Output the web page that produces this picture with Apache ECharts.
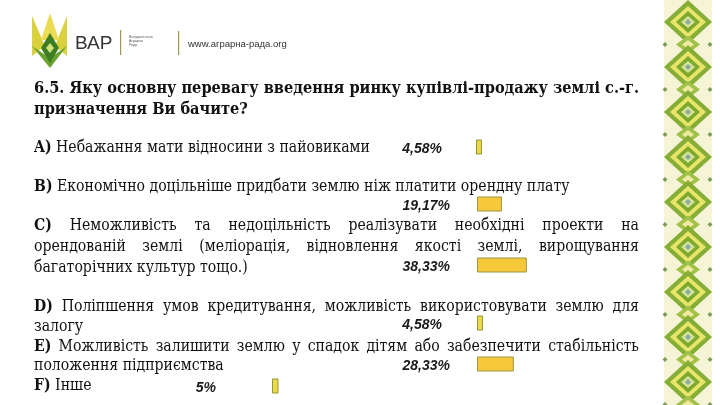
<!DOCTYPE html>
<html>
<head>
<meta charset="utf-8">
<script src="https://cdn.jsdelivr.net/npm/echarts@6/dist/echarts.min.js"></script>
<style>
  html, body { margin: 0; padding: 0; background: #fff; }
  #chart { width: 720px; height: 405px; }
</style>
</head>
<body>
<div id="chart"></div>
<script>
// answer options and shares, %
const options = ['A', 'B', 'C', 'D', 'E', 'F']
const shares = [4.58, 19.17, 38.33, 4.58, 28.33, 5]

const titleLines = [
  '6.5. Яку основну перевагу введення ринку купівлі-продажу землі с.-г.',
  'призначення Ви бачите?'
]
// [bold prefix, text, justified?, y]
const bodyLines = [
  ['A)', 'Небажання мати відносини з пайовиками', false, 148],
  ['B)', 'Економічно доцільніше придбати землю ніж платити орендну плату', false, 187],
  ['C)', 'Неможливість та недоцільність  реалізувати необхідні проекти на', true, 226],
  ['', 'орендованій землі (меліорація, відновлення якості землі, вирощування', true, 247],
  ['', 'багаторічних культур тощо.)', false, 268],
  ['D)', 'Поліпшення умов кредитування, можливість використовувати землю для', true, 307],
  ['', 'залогу', false, 327],
  ['E)', 'Можливість залишити землю у спадок дітям або забезпечити стабільність', true, 347],
  ['', 'положення підприємства', false, 366],
  ['F)', 'Інше', false, 386]
]

// bar slot per option: left x, centre y, gap to label
const barSlots = [
  [476, 147, 34], [477, 204, 27], [477, 265, 27],
  [477, 323, 35], [477, 364, 27], [272, 386, 56]
]

const ctx = document.createElement('canvas').getContext('2d')
function measure(text, font) {
  ctx.font = font
  return ctx.measureText(text).width
}

const SERIF = '"DejaVu Serif", "Liberation Serif", serif'
const LEFT = 34
const RIGHT = 639

// fonts are condensed horizontally to match the slide's line widths
const titleFont = 'bold 17.5px ' + SERIF
const bodyFont = '16px ' + SERIF
const boldFont = 'bold 16px ' + SERIF
const titleScale = (RIGHT - LEFT) / measure(titleLines[0], titleFont)
const bodyScale = (570 - LEFT) / (measure('B) ', boldFont) + measure(bodyLines[1][1], bodyFont))

const graphics = []

function addText(text, x, y, font, fill, sx) {
  graphics.push({
    type: 'text', x: x, y: y, scaleX: sx || 1, silent: true,
    style: { text: text, font: font, fill: fill || '#111', textAlign: 'left', textVerticalAlign: 'middle' }
  })
}

function addLine(tokens, y, justify, sx) {
  // tokens: [text, font]
  const widths = tokens.map(t => measure(t[0], t[1]) * sx)
  const sum = widths.reduce((a, b) => a + b, 0)
  const space = measure(' ', tokens[tokens.length - 1][1]) * sx
  const gap = justify && tokens.length > 1 ? (RIGHT - LEFT - sum) / (tokens.length - 1) : space
  let x = LEFT
  tokens.forEach((t, i) => {
    addText(t[0], x, y, t[1], '#111', sx)
    x += widths[i] + gap
  })
}

// title
addLine(titleLines[0].split(' ').map(w => [w, titleFont]), 88, true, titleScale)
addLine(titleLines[1].split(' ').map(w => [w, titleFont]), 109, false, titleScale)

// answer text
bodyLines.forEach(l => {
  const tokens = []
  if (l[0]) tokens.push([l[0], boldFont])
  l[1].split(/\s+/).forEach(w => tokens.push([w, bodyFont]))
  addLine(tokens, l[3], l[2], bodyScale)
})

// logo
graphics.push(
  { type: 'polygon', shape: { points: [[32, 16], [45, 46], [32, 56]] }, style: { fill: '#d9d23c' } },
  { type: 'polygon', shape: { points: [[67, 16], [67, 56], [55, 46]] }, style: { fill: '#d9d23c' } },
  { type: 'polygon', shape: { points: [[50, 13], [59, 40], [41, 40]] }, style: { fill: '#ebdc55' } },
  { type: 'polygon', shape: { points: [[32, 46], [50, 68], [67, 46], [50, 58]] }, style: { fill: '#6aa232' } },
  { type: 'polygon', shape: { points: [[50, 33], [59, 48], [50, 63], [41, 48]] }, style: { fill: '#3f7d24' } },
  { type: 'polygon', shape: { points: [[50, 43], [54, 48], [50, 53], [46, 48]] }, style: { fill: '#cfe27a' } },
  { type: 'rect', shape: { x: 120, y: 30, width: 1.2, height: 25 }, style: { fill: '#9a9a50' } },
  { type: 'rect', shape: { x: 178, y: 31, width: 1.2, height: 24 }, style: { fill: '#9a9a50' } }
)
addText('ВАР', 75, 44, '19px "Liberation Sans", Arial, sans-serif', '#333')
addText('Всеукраїнська', 129, 37, '3.6px "Liberation Sans", Arial, sans-serif', '#555')
addText('Аграрна', 129, 41, '3.6px "Liberation Sans", Arial, sans-serif', '#555')
addText('Рада', 129, 45, '3.6px "Liberation Sans", Arial, sans-serif', '#555')
addText('www.аграрна-рада.org', 188, 44, '9.5px "Liberation Sans", Arial, sans-serif', '#333')

// embroidery strip on the right
graphics.push({ type: 'rect', shape: { x: 664, y: 0, width: 48, height: 405 }, style: { fill: '#f5f4d6' } })
const cx = 688
for (let y = 22; y < 430; y += 45) {
  const dia = (hw, hh, cy, fill) => ({
    type: 'polygon',
    shape: { points: [[cx - hw, cy], [cx, cy - hh], [cx + hw, cy], [cx, cy + hh]] },
    style: { fill: fill }
  })
  graphics.push(
    dia(24, 22, y, '#86ad35'),
    dia(18, 16, y, '#e8e66a'),
    dia(12, 11, y, '#7fa82e'),
    dia(7, 6, y, '#d2e49a'),
    dia(3, 3, y, '#8aa7a0'),
    dia(12, 9, y + 22.5, '#9fc148'),
    dia(6, 4.5, y + 22.5, '#eeeaa0')
  )
  ;[665, 710].forEach(px => graphics.push({
    type: 'polygon',
    shape: { points: [[px - 2.5, y + 22.5], [px, y + 20], [px + 2.5, y + 22.5], [px, y + 25]] },
    style: { fill: '#7d9c5a' }
  }))
}

// one small grid per bar so each sits next to its answer
const PX_PER_PCT = 1.3
const grids = [], xAxes = [], yAxes = [], series = []
options.forEach((opt, i) => {
  const s = barSlots[i]
  const thin = shares[i] < 10
  grids.push({ left: s[0], top: s[1] - 10, width: 100 * PX_PER_PCT, height: 20 })
  xAxes.push({ gridIndex: i, type: 'value', min: 0, max: 100, show: false })
  yAxes.push({ gridIndex: i, type: 'category', data: [opt], show: false })
  series.push({
    type: 'bar', xAxisIndex: i, yAxisIndex: i,
    data: [shares[i]], barWidth: 15, silent: true,
    itemStyle: {
      color: thin ? '#ecd84a' : '#f6c83a',
      borderColor: thin ? '#8f9a2e' : '#9c9640',
      borderWidth: 1
    },
    label: {
      show: true, position: 'left', distance: s[2], offset: [0, 2],
      formatter: p => (Number.isInteger(p.value) ? p.value : p.value.toFixed(2).replace('.', ',')) + '%',
      fontFamily: '"Liberation Sans", Arial, sans-serif',
      fontSize: 14, fontWeight: 'bold', fontStyle: 'italic', color: '#1a1a1a'
    }
  })
})

const chart = echarts.init(document.getElementById('chart'))
chart.setOption({
  animation: false,
  backgroundColor: '#ffffff',
  grid: grids, xAxis: xAxes, yAxis: yAxes, series: series,
  graphic: { elements: graphics }
})
</script>
</body>
</html>
